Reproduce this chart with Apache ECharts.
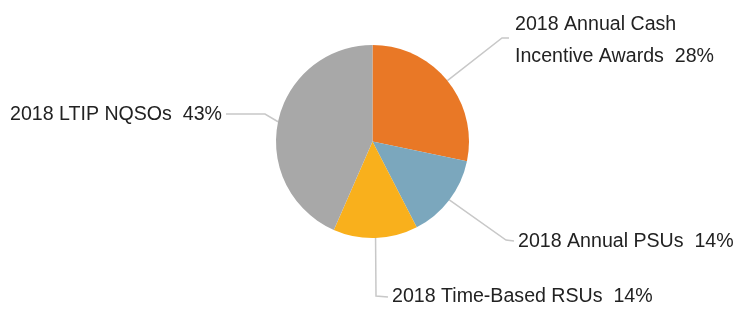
<!DOCTYPE html>
<html><head><meta charset="utf-8">
<script src="https://cdn.jsdelivr.net/npm/echarts@6/dist/echarts.min.js"></script>
<style>html,body{margin:0;padding:0;background:#fff}#c{width:738px;height:313px}</style>
</head><body><div id="c"></div>
<script>
const categories = ["2018 Annual Cash\nIncentive Awards", "2018 Annual PSUs", "2018 Time-Based RSUs", "2018 LTIP NQSOs"];
const values = [28, 14, 14, 43];
const pctLabels = ["28%", "14%", "14%", "43%"];
const colors = ["#E97826", "#7BA7BD", "#F9B01C", "#A8A8A8"];

const chart = echarts.init(document.getElementById('c'), null, {renderer: 'canvas'});
const labelPos = [
  {x: 515, y: 41, align: 'left', mid: [[502, 38], [509, 38]]},
  {x: 518, y: 242, align: 'left', mid: [[506, 240], [514, 241]]},
  {x: 392, y: 297, align: 'left', mid: [[376, 296], [388, 297]]},
  {x: 222, y: 115, align: 'right', mid: [[265, 114], [226, 114]]}
];
chart.setOption({
  animation: false,
  series: [{
    type: 'pie',
    center: [372.5, 141.5],
    radius: 96.5,
    startAngle: 90,
    clockwise: true,
    avoidLabelOverlap: false,
    data: categories.map((c, i) => ({name: c, value: values[i], itemStyle: {color: colors[i]}})),
    label: {
      show: true,
      formatter: p => p.name + '  ' + pctLabels[p.dataIndex],
      fontFamily: 'Liberation Sans, Arial, sans-serif',
      fontSize: 19.6,
      lineHeight: 32,
      color: '#222'
    },
    labelLine: {show: true, length: 20, length2: 10, lineStyle: {color: '#C8C8C8', width: 1.5}},
    labelLayout: function (params) {
      const lp = labelPos[params.dataIndex];
      const start = params.labelLinePoints ? params.labelLinePoints[0] : lp.mid[0];
      return {
        x: lp.x, y: lp.y, align: lp.align, verticalAlign: 'middle',
        labelLinePoints: [start, lp.mid[0], lp.mid[1]]
      };
    }
  }]
});
</script></body></html>
